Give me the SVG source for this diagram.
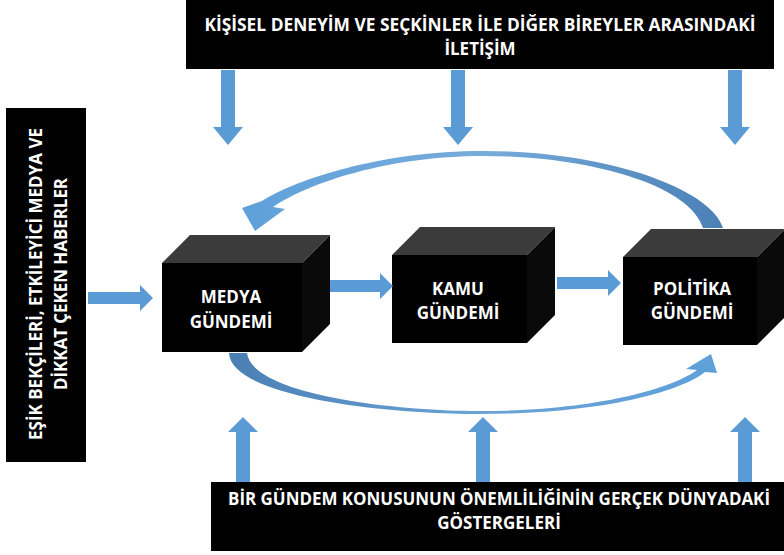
<svg xmlns="http://www.w3.org/2000/svg" width="784" height="555" viewBox="0 0 784 555">
<defs>
<style>
.box{fill:#000;}
.lbl{font-family:"Open Sans","Noto Sans","Liberation Sans",sans-serif;font-weight:bold;fill:#fff;font-size:17px;text-anchor:middle;}
.cl{font-family:"Open Sans","Noto Sans","Liberation Sans",sans-serif;font-weight:bold;fill:#fff;font-size:17px;text-anchor:middle;}
.front{fill:#000;}
.top{fill:#3b3b3b;}
.side{fill:#0a0a0a;}
.arr{fill:#5b9bd5;}
</style>
<linearGradient id="gTop" x1="0" y1="0" x2="1" y2="0">
<stop offset="0" stop-color="#5fa0da"/>
<stop offset="0.5" stop-color="#78acdb"/>
<stop offset="1" stop-color="#4a80b6"/>
</linearGradient>
<linearGradient id="gBot" x1="0" y1="0" x2="1" y2="0">
<stop offset="0" stop-color="#4a7fb4"/>
<stop offset="0.5" stop-color="#6aa2d6"/>
<stop offset="1" stop-color="#5fa0da"/>
</linearGradient>
</defs>
<rect width="784" height="555" fill="#fff"/>

<g id="top-box">
<rect class="box" x="186" y="0" width="588" height="69"/>
<text class="lbl" x="480" y="31" textLength="551" lengthAdjust="spacingAndGlyphs">KİŞİSEL DENEYİM VE SEÇKİNLER İLE DİĞER BİREYLER ARASINDAKİ</text>
<text class="lbl" x="480" y="55">İLETİŞİM</text>
</g>

<g id="left-box">
<rect class="box" x="6" y="108" width="80" height="354"/>
<text class="lbl" transform="translate(42,284) rotate(-90)" textLength="312" lengthAdjust="spacingAndGlyphs">EŞİK BEKÇİLERİ, ETKİLEYİCİ MEDYA VE</text>
<text class="lbl" transform="translate(67,284) rotate(-90)" textLength="212" lengthAdjust="spacingAndGlyphs">DİKKAT ÇEKEN HABERLER</text>
</g>

<g id="bottom-box">
<rect class="box" x="211" y="482" width="573" height="69"/>
<text class="lbl" x="499" y="505" textLength="542" lengthAdjust="spacingAndGlyphs">BİR GÜNDEM KONUSUNUN ÖNEMLİLİĞİNİN GERÇEK DÜNYADAKİ</text>
<text class="lbl" x="499" y="529">GÖSTERGELERİ</text>
</g>

<g id="medya">
<polygon class="top" points="162,263 190,235 330,235 302,263"/>
<polygon class="side" points="302,263 330,235 330,324 302,352"/>
<rect class="front" x="162" y="263" width="140" height="89"/>
<text class="cl" x="231" y="303">MEDYA</text>
<text class="cl" x="231" y="328">GÜNDEMİ</text>
</g>

<g id="kamu">
<polygon class="top" points="392,255 420,227 555,227 527,255"/>
<polygon class="side" points="527,255 555,227 555,315 527,343"/>
<rect class="front" x="392" y="255" width="135" height="88"/>
<text class="cl" x="458" y="295">KAMU</text>
<text class="cl" x="458" y="319">GÜNDEMİ</text>
</g>

<g id="politika">
<polygon class="top" points="623,257 651,229 785,229 757,257"/>
<polygon class="side" points="757,257 785,229 785,317 757,345"/>
<rect class="front" x="623" y="257" width="134" height="88"/>
<text class="cl" x="692" y="295">POLİTİKA</text>
<text class="cl" x="692" y="319">GÜNDEMİ</text>
</g>

<g id="connectors">
<path class="arr" d="M221 70 H235 V127 H243 L228 145 L213 127 H221 Z"/>
<path class="arr" d="M451 70 H465 V127 H473 L458 145 L443 127 H451 Z"/>
<path class="arr" d="M728 70 H742 V127 H750 L735 145 L720 127 H728 Z"/>
<path class="arr" d="M236 482 H250 V432 H258 L243 417 L228 432 H236 Z"/>
<path class="arr" d="M476 482 H490 V432 H498 L483 417 L468 432 H476 Z"/>
<path class="arr" d="M738 482 H752 V432 H760 L745 417 L730 432 H738 Z"/>
<path class="arr" d="M88 292 H140 V285 L153 298 L140 311 V304 H88 Z"/>
<path class="arr" d="M330 280 H380 V273 L393 286 L380 299 V292 H330 Z"/>
<path class="arr" d="M557 277 H608 V270 L621 283 L608 296 V289 H557 Z"/>
<path fill="url(#gTop)" d="M723 228 C712 190 610 151 483 151 C380 151 295 180 262 201 L242 208 L255 231 L285 209 L273 207 C310 182 390 156 483 156 C590 156 690 185 703 228 Z"/>
<path fill="url(#gBot)" d="M229 353 C231 396 380 414 480 414 C600 414 680 392 705 372 L717 373 L711 354 L686 369 L697 370 C670 390 590 411 480 411 C390 411 252 394 247 353 Z"/>
</g>
</svg>
